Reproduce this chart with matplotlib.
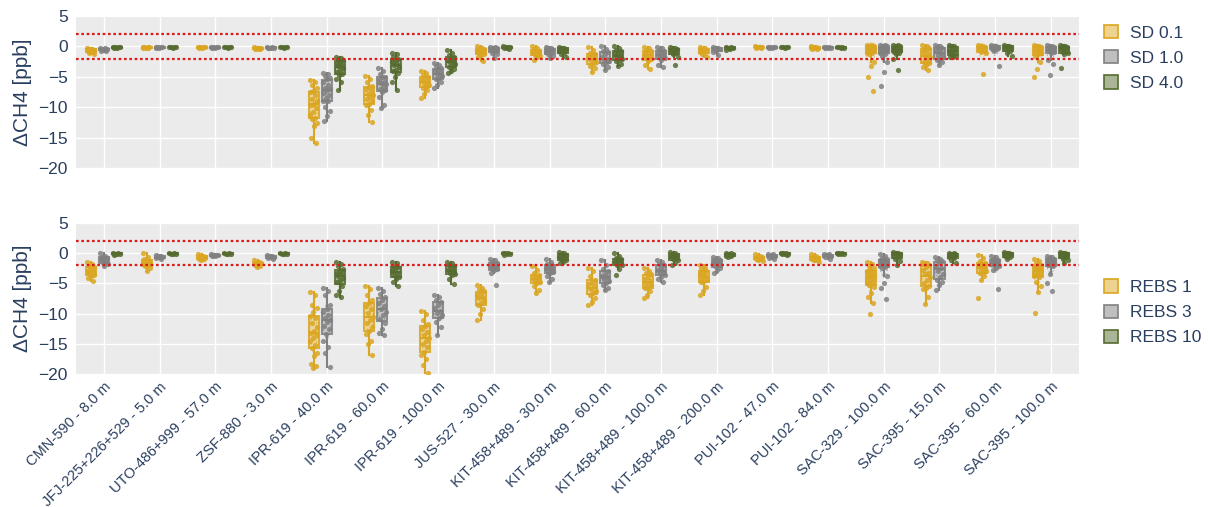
import numpy as np
import matplotlib
matplotlib.use("Agg")
from matplotlib import pyplot as plt
from matplotlib.patches import Patch

plt.rcParams['font.family'] = ['Liberation Sans', 'DejaVu Sans']

sites = ["CMN-590 - 8.0 m", "JFJ-225+226+529 - 5.0 m", "UTO-486+999 - 57.0 m",
         "ZSF-880 - 3.0 m", "IPR-619 - 40.0 m", "IPR-619 - 60.0 m",
         "IPR-619 - 100.0 m", "JUS-527 - 30.0 m", "KIT-458+489 - 30.0 m",
         "KIT-458+489 - 60.0 m", "KIT-458+489 - 100.0 m", "KIT-458+489 - 200.0 m",
         "PUI-102 - 47.0 m", "PUI-102 - 84.0 m", "SAC-329 - 100.0 m",
         "SAC-395 - 15.0 m", "SAC-395 - 60.0 m", "SAC-395 - 100.0 m"]

# top panel: sensor noise (SD) runs
sd01 = [
    [-0.3, -0.4, -0.5, -0.6, -0.7, -0.8, -0.9, -1.0, -1.2, -0.5, -0.6],
    [-0.05, -0.1, -0.1, -0.15, -0.2, -0.2, -0.25],
    [-0.05, -0.1, -0.1, -0.15, -0.2, -0.2],
    [-0.1, -0.2, -0.25, -0.3, -0.35, -0.4, -0.5],
    [-5.6, -5.9, -6.3, -6.8, -7.3, -7.5, -8.0, -8.6, -9.0, -9.4, -9.7, -10.2, -10.8,
     -11.3, -11.7, -11.9, -12.6, -13.1, -15.1, -15.9],
    [-4.9, -5.4, -5.9, -6.5, -6.7, -7.0, -7.4, -7.8, -8.0, -8.3, -8.7, -9.0, -9.4,
     -9.6, -10.5, -11.2, -12.4],
    [-4.0, -4.3, -4.7, -5.0, -5.2, -5.5, -5.8, -6.0, -6.3, -6.6, -6.8, -7.2, -7.8, -8.5],
    [0.0, -0.2, -0.3, -0.4, -0.6, -0.7, -0.9, -1.0, -1.2, -1.4, -1.8, -2.4],
    [0.0, -0.3, -0.5, -0.7, -0.9, -1.0, -1.2, -1.4, -1.5, -1.8, -2.2],
    [-0.15, -0.6, -1.0, -1.3, -1.5, -1.8, -2.0, -2.2, -2.5, -2.9, -3.2, -3.6, -4.2],
    [-0.05, -0.3, -0.6, -0.7, -1.0, -1.3, -1.5, -1.8, -2.1, -2.4, -3.0, -3.7],
    [-0.1, -0.3, -0.4, -0.6, -0.8, -0.9, -1.1, -1.2, -1.7],
    [0.0, -0.05, -0.1, -0.1, -0.15, -0.2, -0.3],
    [0.0, -0.1, -0.15, -0.2, -0.3, -0.4, -0.5],
    [0.3, 0.2, 0.1, 0.0, 0.0, -0.1, -0.3, -0.4, -0.5, -0.6, -0.7, -0.8, -0.9, -1.0,
     -1.1, -1.3, -2.5, -3.2, -5.0, -7.4],
    [0.2, 0.0, -0.2, -0.3, -0.6, -0.9, -1.2, -1.5, -1.8, -2.1, -2.5, -2.8, -3.0, -3.4, -3.8],
    [0.2, 0.1, 0.0, -0.1, -0.3, -0.5, -0.7, -0.9, -1.1, -4.5],
    [0.3, 0.1, 0.0, -0.1, -0.3, -0.5, -0.7, -0.9, -1.1, -1.3, -1.5, -2.5, -3.7, -5.1],
]
sd10 = [
    [-0.2, -0.3, -0.4, -0.5, -0.6, -0.7, -0.8],
    [-0.05, -0.1, -0.1, -0.15, -0.2, -0.2],
    [-0.05, -0.1, -0.1, -0.15, -0.2, -0.2],
    [-0.1, -0.15, -0.2, -0.2, -0.25, -0.3],
    [-4.3, -4.6, -4.9, -5.2, -5.3, -5.8, -6.3, -6.8, -7.0, -7.2, -7.6, -8.0, -8.5,
     -8.9, -9.0, -10.0, -10.6, -11.4, -12.2],
    [-3.6, -4.0, -4.6, -5.0, -5.1, -5.5, -5.8, -6.0, -6.2, -6.6, -7.0, -7.2, -7.5,
     -8.4, -9.6, -10.2],
    [-2.7, -3.0, -3.3, -3.6, -3.8, -4.1, -4.4, -4.6, -4.9, -5.2, -5.4, -5.8, -6.3, -6.9],
    [-0.05, -0.1, -0.2, -0.3, -0.4, -0.6, -0.8, -1.0, -1.3, -1.9],
    [-0.1, -0.2, -0.3, -0.5, -0.7, -0.9, -1.1, -1.3, -1.5, -1.9],
    [0.1, -0.4, -0.8, -0.9, -1.3, -1.7, -2.0, -2.2, -2.4, -2.7, -2.9, -3.4, -3.9],
    [-0.1, -0.3, -0.6, -0.8, -1.0, -1.3, -1.5, -1.7, -1.9, -2.3, -3.0, -3.4],
    [-0.1, -0.2, -0.3, -0.5, -0.7, -0.9, -1.4],
    [-0.05, -0.1, -0.1, -0.15, -0.2, -0.25],
    [-0.05, -0.1, -0.15, -0.2, -0.25, -0.3],
    [0.3, 0.2, 0.1, 0.0, -0.1, -0.2, -0.3, -0.4, -0.5, -0.6, -0.7, -0.8, -0.9, -1.0,
     -1.2, -1.6, -2.5, -4.2, -6.5],
    [0.3, 0.0, -0.1, -0.2, -0.5, -0.8, -1.1, -1.4, -1.7, -2.0, -2.3, -2.5, -3.0],
    [0.2, 0.1, 0.0, -0.1, -0.2, -0.4, -0.5, -0.7, -3.3],
    [0.3, 0.1, 0.0, -0.1, -0.2, -0.4, -0.6, -0.8, -0.9, -1.1, -2.2, -2.9, -4.7],
]
sd40 = [
    [-0.05, -0.1, -0.1, -0.15, -0.2, -0.25],
    [-0.05, -0.1, -0.1, -0.15, -0.2],
    [-0.05, -0.1, -0.1, -0.15, -0.2],
    [-0.05, -0.1, -0.1, -0.15, -0.2],
    [-1.7, -1.9, -2.0, -2.2, -2.5, -2.8, -3.1, -3.3, -3.5, -3.8, -4.2, -4.5, -4.7,
     -5.3, -5.8, -7.1],
    [-1.0, -1.3, -1.7, -2.0, -2.3, -2.6, -2.9, -3.1, -3.4, -3.8, -4.1, -4.3, -5.0, -5.8, -7.2],
    [-0.6, -1.0, -1.4, -1.7, -1.9, -2.2, -2.4, -2.6, -2.9, -3.2, -3.4, -3.7, -4.0, -4.3],
    [0.0, -0.05, -0.1, -0.15, -0.2, -0.3, -0.4],
    [-0.1, -0.2, -0.3, -0.5, -0.6, -0.8, -1.0, -1.2, -1.7],
    [0.1, -0.3, -0.6, -0.8, -1.1, -1.3, -1.5, -1.7, -2.0, -2.2, -2.4, -2.9, -3.3],
    [-0.1, -0.2, -0.3, -0.5, -0.7, -0.9, -1.1, -1.3, -1.8, -3.0],
    [-0.05, -0.1, -0.2, -0.3, -0.4, -0.6],
    [-0.05, -0.1, -0.1, -0.15, -0.2],
    [-0.05, -0.1, -0.15, -0.2, -0.25],
    [0.3, 0.2, 0.1, 0.0, -0.1, -0.2, -0.4, -0.5, -0.6, -0.8, -0.9, -1.0, -1.3, -2.0, -3.9],
    [0.3, 0.1, 0.0, -0.2, -0.4, -0.7, -0.9, -1.2, -1.5, -1.7, -1.8],
    [0.2, 0.1, 0.0, -0.1, -0.3, -0.5, -0.8, -1.1, -1.5],
    [0.3, 0.1, 0.0, -0.1, -0.3, -0.5, -0.7, -0.9, -1.1, -1.3, -3.5],
]

# bottom panel: REBS runs
rebs1 = [
    [-1.4, -1.8, -2.1, -2.3, -2.6, -2.9, -3.1, -3.3, -3.6, -3.8, -4.1, -4.6],
    [-0.05, -0.6, -1.0, -1.3, -1.6, -1.8, -2.0, -2.2, -2.4, -2.9],
    [-0.2, -0.4, -0.5, -0.7, -0.8, -0.9, -1.0, -1.2],
    [-1.2, -1.4, -1.6, -1.7, -1.8, -1.9, -2.1, -2.3],
    [-6.4, -6.9, -8.6, -9.0, -9.8, -10.4, -10.8, -11.5, -12.2, -12.8, -13.2, -13.5,
     -14.0, -14.6, -15.2, -15.7, -16.5, -17.0, -18.3, -18.7, -19.0],
    [-5.4, -6.0, -7.0, -7.8, -8.3, -8.7, -9.3, -9.9, -10.5, -11.0, -11.6, -12.2,
     -12.9, -13.3, -14.6, -15.0, -16.9],
    [-9.5, -10.0, -11.0, -11.7, -12.1, -12.6, -13.1, -13.6, -14.0, -14.5, -15.0,
     -15.6, -16.3, -16.8, -17.5, -18.5, -19.9],
    [-5.3, -5.7, -6.0, -6.3, -6.6, -6.9, -7.2, -7.5, -7.9, -8.3, -8.6, -9.2, -10.0, -11.1],
    [-2.2, -2.8, -3.3, -3.6, -3.9, -4.1, -4.3, -4.6, -4.8, -5.0, -5.4, -6.1, -6.6],
    [-2.4, -3.0, -3.8, -4.4, -4.7, -5.1, -5.5, -5.9, -6.3, -6.6, -6.9, -7.5, -8.0, -8.6],
    [-2.5, -2.9, -3.3, -3.5, -3.9, -4.3, -4.6, -4.9, -5.3, -5.6, -5.8, -6.3, -7.0, -7.4],
    [-2.0, -2.4, -2.7, -2.9, -3.2, -3.5, -3.8, -4.1, -4.4, -4.6, -4.8, -5.6, -6.2, -7.0],
    [-0.2, -0.4, -0.6, -0.7, -0.8, -0.9, -1.0, -1.1, -1.3],
    [-0.2, -0.5, -0.7, -0.8, -0.9, -1.0, -1.1, -1.2, -1.4],
    [-1.4, -1.8, -2.2, -2.5, -2.7, -2.9, -3.1, -3.4, -3.6, -3.8, -4.0, -4.2, -4.4,
     -4.7, -5.0, -5.2, -5.6, -6.6, -7.3, -8.3, -10.1],
    [-1.4, -1.6, -1.8, -1.9, -2.3, -2.8, -3.2, -3.5, -3.9, -4.4, -4.9, -5.4, -5.8,
     -6.0, -7.2, -8.4],
    [-0.3, -0.8, -1.3, -1.6, -1.9, -2.1, -2.3, -2.6, -2.9, -3.1, -3.3, -3.8, -4.4, -7.5],
    [-0.9, -1.3, -1.7, -1.9, -2.0, -2.2, -2.4, -2.6, -2.8, -3.0, -3.2, -3.4, -3.6,
     -3.8, -4.0, -4.7, -5.4, -6.5, -9.9],
]
rebs3 = [
    [-0.05, -0.4, -0.6, -0.8, -1.0, -1.2, -1.4, -1.6, -1.8, -2.1],
    [-0.3, -0.4, -0.5, -0.6, -0.7, -0.8, -1.0],
    [-0.2, -0.25, -0.3, -0.35, -0.4, -0.5],
    [-0.3, -0.4, -0.5, -0.6, -0.7, -0.8, -1.0],
    [-5.8, -6.3, -7.0, -8.5, -9.3, -9.8, -10.3, -10.8, -11.0, -11.4, -12.0, -12.6,
     -13.3, -14.5, -15.6, -16.5, -18.9],
    [-5.8, -6.2, -6.8, -7.3, -7.7, -8.3, -8.8, -9.2, -9.7, -10.3, -10.9, -11.6,
     -12.5, -13.2, -13.5],
    [-6.9, -7.3, -7.8, -8.0, -8.5, -9.0, -9.5, -9.9, -10.3, -10.8, -11.4, -12.2, -13.5],
    [-0.9, -1.2, -1.5, -1.7, -1.9, -2.1, -2.3, -2.5, -2.7, -2.8, -3.2, -5.2],
    [-1.0, -1.4, -1.8, -2.0, -2.3, -2.5, -2.7, -2.9, -3.1, -3.3, -3.8, -4.3, -4.8],
    [-1.1, -1.9, -2.6, -3.0, -3.4, -3.7, -4.0, -4.3, -4.6, -5.0, -5.3, -5.7, -6.1],
    [-1.1, -1.5, -1.8, -2.0, -2.4, -2.8, -3.0, -3.3, -3.6, -3.9, -4.2, -4.7],
    [-0.6, -0.8, -1.0, -1.2, -1.4, -1.7, -1.9, -2.1, -2.4, -2.8, -3.3],
    [-0.1, -0.2, -0.4, -0.5, -0.6, -0.8, -1.0],
    [-0.1, -0.2, -0.3, -0.4, -0.5, -0.7, -0.9],
    [-0.2, -0.5, -0.8, -1.0, -1.1, -1.2, -1.3, -1.4, -1.5, -1.6, -1.7, -1.9, -2.0,
     -2.1, -2.3, -2.4, -3.7, -5.0, -5.8, -7.6],
    [-0.7, -0.9, -1.1, -1.3, -1.7, -2.1, -2.5, -2.9, -3.4, -3.9, -4.4, -4.7, -5.3, -6.1],
    [-0.4, -0.7, -1.0, -1.1, -1.3, -1.5, -1.7, -1.9, -2.1, -2.4, -2.8, -6.0],
    [-0.4, -0.6, -0.8, -0.9, -1.0, -1.2, -1.4, -1.5, -1.7, -1.9, -2.0, -2.2, -3.4, -5.0, -6.2],
]
rebs10 = [
    [0.1, 0.0, -0.1, -0.1, -0.2, -0.3],
    [0.0, -0.05, -0.1, -0.15, -0.2],
    [0.0, -0.05, -0.1, -0.15, -0.2],
    [0.0, -0.05, -0.1, -0.15, -0.2],
    [-1.4, -1.8, -2.2, -2.7, -2.9, -3.2, -3.5, -3.8, -4.1, -4.4, -4.7, -5.4, -6.2, -6.9, -7.3],
    [-1.4, -1.7, -2.1, -2.3, -2.6, -3.0, -3.3, -3.6, -3.9, -4.3, -4.8, -5.5],
    [-1.4, -1.7, -2.0, -2.2, -2.5, -2.8, -3.0, -3.2, -3.4, -3.6, -4.2, -5.1],
    [0.1, 0.0, -0.05, -0.1, -0.2, -0.3],
    [0.2, 0.0, -0.1, -0.3, -0.5, -0.6, -0.8, -1.0, -1.1, -1.4, -1.7],
    [0.1, -0.4, -0.8, -1.0, -1.2, -1.5, -1.7, -1.9, -2.0, -2.6, -3.6],
    [0.2, 0.0, -0.1, -0.3, -0.5, -0.6, -0.8, -1.0, -1.2, -1.6, -2.0],
    [0.1, 0.0, -0.1, -0.2, -0.3, -0.4, -0.5, -0.7],
    [0.05, 0.0, -0.05, -0.1, -0.15, -0.2, -0.3],
    [0.05, 0.0, -0.05, -0.1, -0.15, -0.2],
    [0.2, 0.1, 0.0, -0.1, -0.2, -0.4, -0.6, -0.9, -1.3, -2.0],
    [0.1, 0.0, -0.1, -0.2, -0.4, -0.6, -0.8, -1.1, -1.7],
    [0.2, 0.1, 0.0, -0.1, -0.3, -0.5, -0.7, -1.0],
    [0.2, 0.1, 0.0, -0.1, -0.3, -0.5, -0.6, -0.9, -1.2, -1.7],
]

colors = ['#DAA520', '#808080', '#556B2F']
fills = ['#EDD290', '#BFBFBF', '#AAB597']
txt = '#2a3f5f'
bg = '#ebebeb'
offsets = [-0.235, 0.0, 0.235]
bw = 0.18


def draw_series(ax, data, k):
    pos = np.arange(len(data)) + offsets[k]
    c = colors[k]
    ax.boxplot(data, positions=pos, widths=bw, whis=1.5, showfliers=False,
               patch_artist=True, manage_ticks=False,
               boxprops=dict(facecolor=fills[k], edgecolor=c, linewidth=1.5, alpha=0.85),
               medianprops=dict(color=c, linewidth=1.5),
               whiskerprops=dict(color=c, linewidth=1.5),
               capprops=dict(linewidth=0), zorder=3)
    for p, vals in zip(pos, data):
        vals = np.asarray(vals)
        m, s = vals.mean(), vals.std()
        # dashed mean / sd diamond
        ax.plot([p - bw / 2, p, p + bw / 2, p, p - bw / 2], [m, m + s, m, m - s, m],
                ls=(0, (2, 2)), color=c, lw=0.7, alpha=0.6, zorder=4)
        jit = ((np.arange(len(vals)) * 0.618034) % 1 - 0.5) * bw * 0.8
        ax.scatter(p + jit, vals, s=14, color=c, alpha=0.85, lw=0, zorder=5)


fig = plt.figure(figsize=(12.08, 5.07), dpi=100)
ax1 = fig.add_axes([0.063, 0.6686, 0.830, 0.2998])
ax2 = fig.add_axes([0.063, 0.2623, 0.830, 0.2979])

for ax, series in [(ax1, [sd01, sd10, sd40]), (ax2, [rebs1, rebs3, rebs10])]:
    ax.set_facecolor(bg)
    for k, d in enumerate(series):
        draw_series(ax, d, k)
    ax.axhline(2, color='#dd1c1c', ls=(0, (1.2, 1.2)), lw=1.6, zorder=6)
    ax.axhline(-2, color='#dd1c1c', ls=(0, (1.2, 1.2)), lw=1.6, zorder=6)
    ax.set_xlim(-0.5, len(sites) - 0.5)
    ax.set_ylim(-20, 5)
    ax.set_yticks([5, 0, -5, -10, -15, -20])
    ax.set_xticks(range(len(sites)))
    ax.grid(True, color='white', lw=1.0, zorder=0)
    ax.set_axisbelow(True)
    for sp in ax.spines.values():
        sp.set_visible(False)
    ax.tick_params(length=0, labelsize=12.5, labelcolor=txt, pad=6)
    ax.set_ylabel('ΔCH4 [ppb]', fontsize=15, color=txt)
    ax.yaxis.set_label_coords(-0.044, 0.5)

ax1.set_xticklabels([])
ax2.set_xticklabels(sites, rotation=45, ha='right', rotation_mode='anchor',
                    fontsize=10.5, color=txt)
ax2.tick_params(axis='x', pad=4)

leg_kw = dict(frameon=False, fontsize=12.5, labelcolor=txt, handlelength=0.8,
              handleheight=0.8, handletextpad=0.7, labelspacing=0.55,
              borderaxespad=0, borderpad=0)
h1 = [Patch(facecolor=fills[k], edgecolor=colors[k], lw=1.2, label=l)
      for k, l in enumerate(['SD 0.1', 'SD 1.0', 'SD 4.0'])]
h2 = [Patch(facecolor=fills[k], edgecolor=colors[k], lw=1.2, label=l)
      for k, l in enumerate(['REBS 1', 'REBS 3', 'REBS 10'])]
fig.legend(handles=h1, loc='upper left', bbox_to_anchor=(0.914, 0.951), **leg_kw)
fig.legend(handles=h2, loc='upper left', bbox_to_anchor=(0.914, 0.449), **leg_kw)

fig.savefig('out.png', dpi=100, facecolor='white')
